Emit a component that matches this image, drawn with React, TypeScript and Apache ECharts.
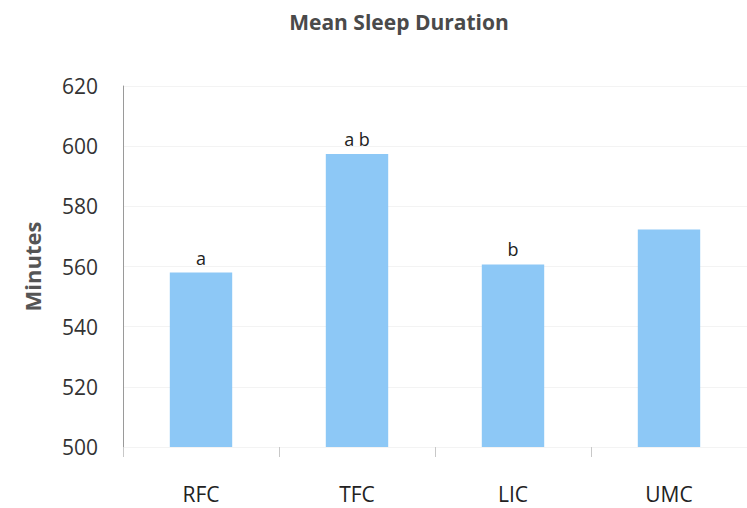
import React, { useEffect, useRef } from "react";
import * as echarts from "echarts";

const categories = ["RFC", "TFC", "LIC", "UMC"];
const meanMinutes = [558, 597.4, 560.7, 572.3];
const groupLetters = ["a", "a b", "b", ""];
const yTicks = { min: 500, max: 620, interval: 20 };

export default function App() {
  const ref = useRef<HTMLDivElement>(null);
  useEffect(() => {
    document.body.style.margin = "0";
    if (!ref.current) return;
    const chart = echarts.init(ref.current, undefined, { renderer: "svg" });
    chart.setOption({
      animation: false,
      backgroundColor: "#ffffff",
      title: {
        text: "Mean Sleep Duration",
        left: 394,
        top: 6,
        textAlign: "center",
        textStyle: {
          fontFamily: "Open Sans",
          fontWeight: "bold",
          fontSize: 21,
          color: "#4a4a4a",
        },
      },
      grid: { left: 123, top: 86, width: 626, height: 361, containLabel: false },
      xAxis: {
        type: "category",
        data: categories,
        axisLine: { show: false },
        axisTick: { show: true, length: 10, lineStyle: { color: "#c8c8c8" } },
        axisLabel: {
          margin: 36,
          fontFamily: "Open Sans",
          fontSize: 21,
          color: "#222222",
        },
      },
      yAxis: {
        type: "value",
        min: yTicks.min,
        max: yTicks.max,
        interval: yTicks.interval,
        name: "Minutes",
        nameLocation: "middle",
        nameGap: 80,
        nameRotate: 90,
        nameTextStyle: {
          fontFamily: "Open Sans",
          fontWeight: "bold",
          fontSize: 22,
          color: "#555555",
        },
        axisLine: { show: true, lineStyle: { color: "#9a9a9a" } },
        axisTick: { show: false },
        axisLabel: {
          margin: 25,
          fontFamily: "Open Sans",
          fontSize: 21,
          color: "#333333",
        },
        splitLine: { show: true, lineStyle: { color: "#f3f3f3" } },
      },
      series: [
        {
          type: "bar",
          data: meanMinutes,
          barWidth: "40%",
          itemStyle: { color: "#8dc8f6" },
          label: {
            show: true,
            position: "top",
            distance: 6,
            fontFamily: "Open Sans",
            fontSize: 18,
            color: "#222222",
            formatter: (p: any) => groupLetters[p.dataIndex],
          },
        },
      ],
    });
    return () => chart.dispose();
  }, []);
  return <div ref={ref} style={{ width: 747, height: 508 }} />;
}
